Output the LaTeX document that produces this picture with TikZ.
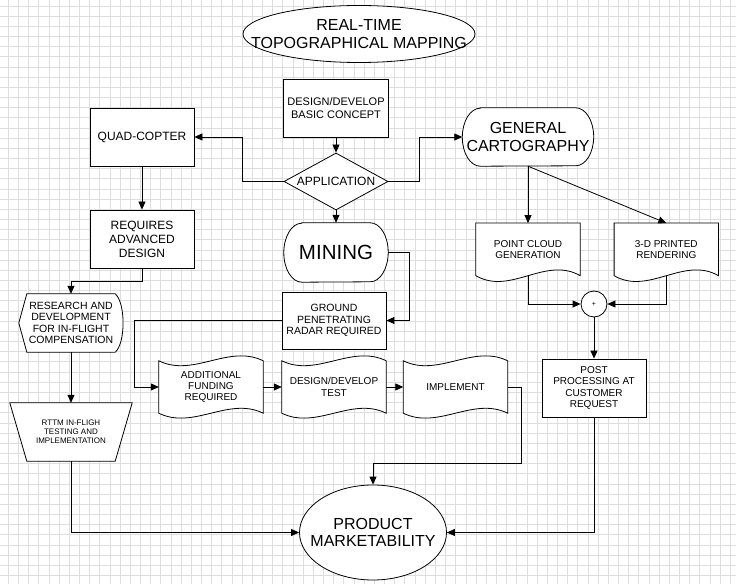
\documentclass[tikz,border=0pt]{standalone}
\usepackage{fontspec}
\setmainfont{Liberation Sans}
\usepackage{tikz}
\usetikzlibrary{arrows.meta}
\usetikzlibrary{shapes.geometric}
\usetikzlibrary{backgrounds}

\begin{document}
\begin{tikzpicture}[x=1pt, y=1pt,
        gridline/.style={draw=black!13, line width=0.9pt},
        outline/.style={draw, fill=white, line width=0.8pt},
        box/.style={outline, minimum width=104pt, minimum height=58pt, inner sep=1pt, align=center},
        plain/.style={minimum width=104pt, minimum height=58pt, inner sep=1pt, align=center},
        flow/.style={line width=0.8pt, -{Triangle[length=8pt,width=7pt]}}]
        \useasboundingbox (0,0) rectangle (736,584);
        \begin{scope}[on background layer]
            \foreach \i in {0,...,71}
                \draw[gridline] ({8.3+10.17*\i},0) -- ({8.3+10.17*\i},584);
            \foreach \j in {0,...,56}
                \draw[gridline] (0,{578-10.17*\j}) -- (736,{578-10.17*\j});
        \end{scope}

        \node[ellipse, outline, minimum width=232pt, minimum height=57pt, inner sep=0pt] (title) at (359,550) {};
        \node[align=center, font=\fontsize{16}{18}\selectfont] (titletext) at (title) {REAL-TIME\\TOPOGRAPHICAL MAPPING};
        \node[box, minimum width=105pt, font=\fontsize{11}{13.3}\selectfont] (concept) at (336,476) {DESIGN/DEVELOP\\BASIC CONCEPT};
        \node[diamond, outline, minimum width=104pt, minimum height=57pt, inner sep=0pt, aspect=1.8, font=\fontsize{12}{14}\selectfont] (app) at (336,402.5) {APPLICATION};
        \node[box, font=\fontsize{12}{14}\selectfont] (quad) at (142,447) {QUAD-COPTER};
        \node[box, font=\fontsize{12}{14}\selectfont] (req) at (142,345) {REQUIRES\\ADVANCED\\DESIGN};
        \node[plain, minimum height=59pt, font=\fontsize{20.5}{22}\selectfont] (mine) at (336,331.5) {MINING};
        \node[plain, minimum width=131pt, font=\fontsize{16}{18}\selectfont] (gencart) at (528,447) {GENERAL\\CARTOGRAPHY};
        \node[plain, minimum height=52.2pt, font=\fontsize{10}{11}\selectfont] (cloud) at (528,334.6) {POINT CLOUD\\GENERATION};
        \node[plain, minimum height=52.2pt, font=\fontsize{10}{11}\selectfont] (printed) at (666.3,334.6) {3-D PRINTED\\RENDERING};
        \node[circle, outline, minimum size=26pt, inner sep=0pt, font=\fontsize{7}{8}\selectfont] (sum) at (594,280) {+};
        \node[box, font=\fontsize{10}{11.3}\selectfont] (post) at (594,196) {POST\\PROCESSING AT\\CUSTOMER\\REQUEST};
        \node[box, minimum height=57pt, font=\fontsize{10.5}{11.5}\selectfont] (gpr) at (334,263.5) {GROUND\\PENETRATING\\RADAR REQUIRED};
        \node[plain, minimum height=52pt, font=\fontsize{10}{11.2}\selectfont] (fund) at (211,197) {ADDITIONAL\\FUNDING\\REQUIRED};
        \node[plain, minimum height=52pt, font=\fontsize{10}{11.2}\selectfont] (test) at (334,197) {DESIGN/DEVELOP\\TEST};
        \node[plain, minimum height=52pt, font=\fontsize{10}{11.2}\selectfont] (impl) at (455.5,197) {IMPLEMENT};
        \node[plain, font=\fontsize{10.5}{11.3}\selectfont] (res) at (71,261) {RESEARCH AND\\DEVELOPMENT\\FOR IN-FLIGHT\\COMPENSATION};
        \node[plain, minimum width=122pt, font=\fontsize{8}{9.2}\selectfont] (rttm) at (71,152) {RTTM IN-FLIGH\\TESTING AND\\IMPLEMENTATION};
        \node[ellipse, outline, minimum width=147pt, minimum height=95pt, inner sep=0pt] (prod) at (373,51.5) {};
        \node[align=center, font=\fontsize{16}{17.7}\selectfont] (prodtext) at (prod) {PRODUCT\\MARKETABILITY};

        \begin{scope}[on background layer]
            \foreach \n/\ry in {mine/29.5, gencart/29}
                \draw[outline] ([xshift=18pt]\n.north west) -- ([xshift=-18pt]\n.north east) arc[start angle=90, end angle=-90, x radius=18, y radius=\ry] -- ([xshift=18pt]\n.south west) arc[start angle=270, end angle=90, x radius=18, y radius=\ry] -- cycle;
            \foreach \n in {fund, test, impl}
                \draw[outline] (\n.north west) .. controls +(34.7,-17) and +(-34.7,17) .. (\n.north east) -- (\n.south east) .. controls +(-34.7,17) and +(34.7,-17) .. (\n.south west) -- cycle;
            \foreach \n in {cloud, printed}
                \draw[outline] (\n.north west) -- (\n.north east) -- (\n.south east) .. controls +(-34.7,20) and +(34.7,-20) .. (\n.south west) -- cycle;
            \draw[outline] (res.west) -- ([xshift=8pt]res.north west) -- ([xshift=-8pt]res.north east) .. controls +(10.5,-9) and +(10.5,9) .. ([xshift=-8pt]res.south east) -- ([xshift=8pt]res.south west) -- cycle;
            \draw[outline] (rttm.north west) -- (rttm.north east) -- ([xshift=-17pt]rttm.south east) -- ([xshift=17pt]rttm.south west) -- cycle;
        \end{scope}

        \draw[flow] (concept) -- (app);
        \draw[flow] (app.west) -- ++(-41,0) |- (quad.east);
        \draw[flow] (app.east) -- ++(31,0) |- (gencart.west);
        \draw[flow] (app) -- (mine);
        \draw[flow] (mine.east) -- ++(21,0) |- (gpr.east);
        \draw[flow] (gpr.west) -- ++(-147,0) |- (fund.west);
        \draw[flow] (fund) -- (test);
        \draw[flow] (test) -- (impl);
        \draw[flow] (impl.east) -- ++(14,0) -- ++(0,-76) -| (prod.north);
        \draw[flow] (quad) -- (req);
        \draw[flow] (req.south) -- ++(0,-13) -| (res.north);
        \draw[flow] (res) -- (rttm);
        \draw[flow] (rttm.south) |- (prod.west);
        \draw[flow] (gencart.south) -- (cloud.north);
        \draw[flow] (gencart.south) -- (printed.north);
        \draw[flow] (cloud.south) |- (sum.west);
        \draw[flow] (printed.south) |- (sum.east);
        \draw[flow] (sum) -- (post);
        \draw[flow] (post.south) |- (prod.east);
\end{tikzpicture}
\end{document}
